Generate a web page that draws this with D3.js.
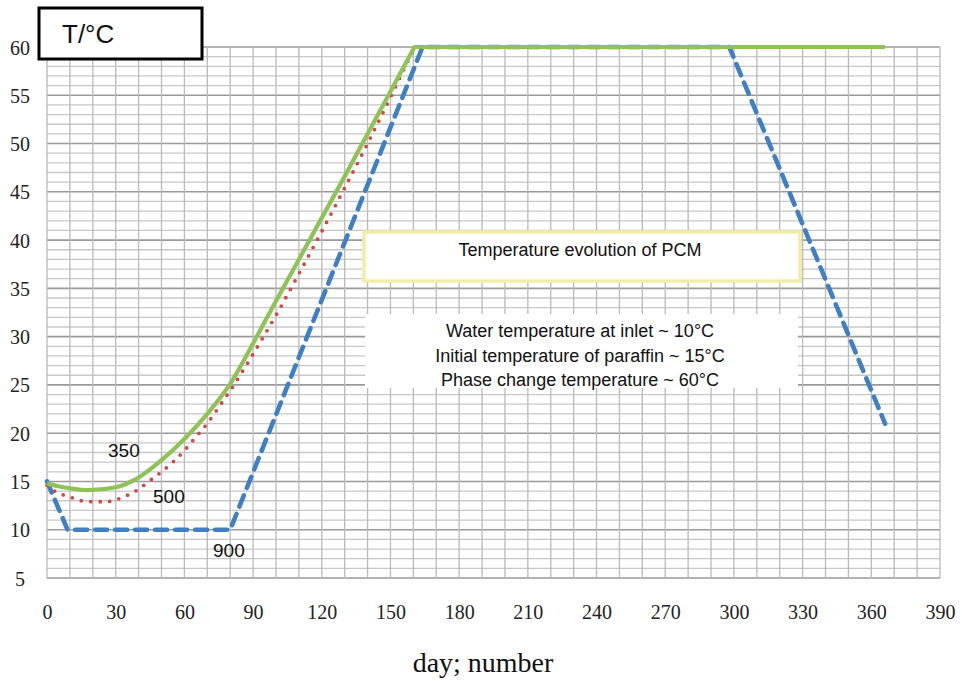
<!DOCTYPE html>
<html>
<head>
<meta charset="utf-8">
<script src="https://cdn.jsdelivr.net/npm/d3@7"></script>
<style>
  html, body { margin: 0; padding: 0; background: #fff; }
  svg { display: block; }
</style>
</head>
<body>
<svg id="chart" width="962" height="681"></svg>
<script>
// ---- data ----
const xTicks = [0, 30, 60, 90, 120, 150, 180, 210, 240, 270, 300, 330, 360, 390];
const yTicks = [5, 10, 15, 20, 25, 30, 35, 40, 45, 50, 55, 60];

// rising part (smooth) and plateau end
const days350 = [0, 5, 10, 18, 30, 40, 50, 60, 70, 80, 90, 100, 110, 120, 130, 140, 150, 160.5];
const temp350 = [14.8, 14.5, 14.3, 14.1, 14.4, 15.4, 17.2, 19.4, 22.0, 25.1, 29.3, 33.7, 38.0, 42.3, 46.6, 51.0, 55.4, 60];
const plateau350 = [366, 60];

const days500 = [0, 4, 10, 15, 20, 26, 30, 35, 40, 45, 50, 55, 60, 65, 70, 75, 80, 90, 100, 110, 120, 130, 140, 150, 160.5];
const temp500 = [14.6, 13.9, 13.4, 13.0, 12.9, 12.9, 13.1, 13.55, 14.2, 15.1, 16.0, 17.0, 18.2, 19.6, 21.0, 22.7, 24.4, 28.2, 32.2, 36.5, 40.9, 45.4, 50.0, 54.8, 60];
const plateau500 = [366, 60];

const days900 = [0, 9, 80, 164, 298, 366];
const temp900 = [15, 10, 10, 60, 60, 21];

const seriesLabels = ["350", "500", "900"];
const infoLines = ["Water temperature at inlet ~ 10°C", "Initial temperature of paraffin ~ 15°C", "Phase change temperature ~ 60°C"];

// ---- drawing ----
const svg = d3.select("#chart");
const x = d3.scaleLinear().domain([0, 390]).range([47, 940]);
const y = d3.scaleLinear().domain([5, 60]).range([578, 47]);

// grid
const g = svg.append("g");
g.selectAll("line.hmin").data(d3.range(5, 61, 1)).enter().append("line")
  .attr("x1", x(0)).attr("x2", x(390))
  .attr("y1", d => y(d)).attr("y2", d => y(d))
  .attr("stroke", d => d % 5 === 0 ? "#9a9a9a" : "#c8c8c8")
  .attr("stroke-width", d => d % 5 === 0 ? 1.6 : 1.3);
g.selectAll("line.v").data(d3.range(0, 391, 10)).enter().append("line")
  .attr("y1", y(5)).attr("y2", y(60))
  .attr("x1", d => x(d)).attr("x2", d => x(d))
  .attr("stroke", "#bababa").attr("stroke-width", 1.3);

// axes labels (ticks)
const xAxis = d3.axisBottom(x).tickValues(xTicks).tickSize(0).tickPadding(0).tickFormat(d3.format("d"));
const xa = svg.append("g").attr("transform", "translate(0,619)").call(xAxis);
xa.select(".domain").remove();
xa.selectAll("text").attr("font-family", "Liberation Serif, serif").attr("font-size", 20).attr("fill", "#222").attr("dy", 0);

const yAxis = d3.axisLeft(y).tickValues(yTicks).tickSize(0).tickPadding(0).tickFormat(d3.format("d"));
const ya = svg.append("g").attr("transform", "translate(30,0)").call(yAxis);
ya.select(".domain").remove();
ya.selectAll("text").attr("font-family", "Liberation Serif, serif").attr("font-size", 20).attr("fill", "#222")
  .attr("text-anchor", "middle").attr("x", -10).attr("dy", "0.35em");

// lines
const smooth = d3.line().x(d => x(d[0])).y(d => y(d[1])).curve(d3.curveMonotoneX);
const straight = d3.line().x(d => x(d[0])).y(d => y(d[1]));
const withPlateau = (pts, end) => smooth(pts) + "L" + x(end[0]) + "," + y(end[1]);

svg.append("path").datum(d3.zip(days900, temp900))
  .attr("d", straight)
  .attr("fill", "none").attr("stroke", "#3f7fc3").attr("stroke-width", 4.6)
  .attr("stroke-dasharray", "12 8").attr("stroke-linecap", "round").attr("stroke-linejoin", "round");

svg.append("path")
  .attr("d", withPlateau(d3.zip(days500, temp500), plateau500))
  .attr("fill", "none").attr("stroke", "#d04848").attr("stroke-width", 3.8)
  .attr("stroke-dasharray", "0 9.5").attr("stroke-linecap", "round");

svg.append("path")
  .attr("d", withPlateau(d3.zip(days350, temp350), plateau350))
  .attr("fill", "none").attr("stroke", "#8fc257").attr("stroke-width", 4.2)
  .attr("stroke-linejoin", "round");

// series labels
const labelPos = [[108, 457], [153, 503], [213, 557]];
svg.selectAll("text.slab").data(seriesLabels).enter().append("text")
  .attr("x", (d, i) => labelPos[i][0]).attr("y", (d, i) => labelPos[i][1])
  .attr("font-family", "Liberation Sans, Arial, sans-serif").attr("font-size", 19).attr("fill", "#111")
  .text(d => d);

// title box
svg.append("rect").attr("x", 39).attr("y", 8).attr("width", 163).attr("height", 51)
  .attr("fill", "#fff").attr("stroke", "#000").attr("stroke-width", 3);
svg.append("text").attr("x", 62).attr("y", 43)
  .attr("font-family", "Liberation Sans, Arial, sans-serif").attr("font-size", 26).attr("fill", "#111")
  .text("T/°C");

// PCM box
svg.append("rect").attr("x", 364).attr("y", 232).attr("width", 436).attr("height", 49)
  .attr("fill", "#fff").attr("stroke", "#f2eca8").attr("stroke-width", 3.5);
svg.append("text").attr("x", 580).attr("y", 256).attr("text-anchor", "middle")
  .attr("font-family", "Liberation Sans, Arial, sans-serif").attr("font-size", 18).attr("fill", "#111")
  .text("Temperature evolution of PCM");

// info box
svg.append("rect").attr("x", 365).attr("y", 314).attr("width", 433).attr("height", 74)
  .attr("fill", "#fff");
svg.selectAll("text.info").data(infoLines).enter().append("text")
  .attr("x", 580).attr("y", (d, i) => 337 + i * 24.5).attr("text-anchor", "middle")
  .attr("font-family", "Liberation Sans, Arial, sans-serif").attr("font-size", 18).attr("fill", "#111")
  .text(d => d);

// x axis title
svg.append("text").attr("x", 483).attr("y", 672).attr("text-anchor", "middle")
  .attr("font-family", "Liberation Serif, Times New Roman, serif").attr("font-size", 28).attr("fill", "#111")
  .text("day; number");
</script>
</body>
</html>
